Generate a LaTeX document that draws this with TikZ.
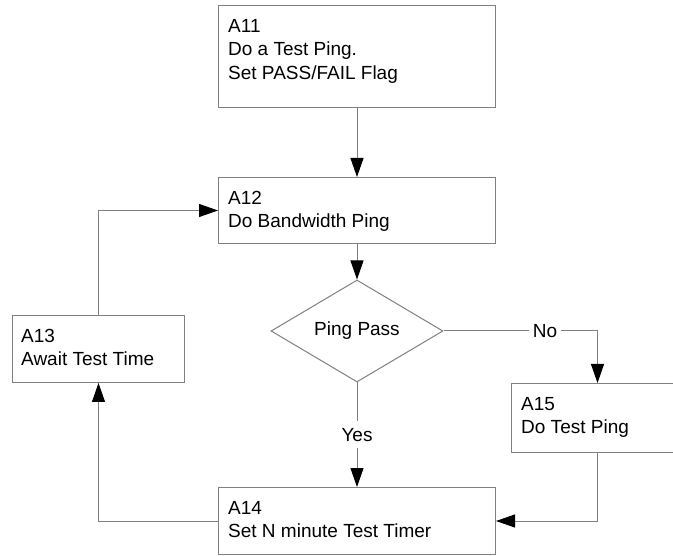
\documentclass[tikz,border=0pt]{standalone}
\usepackage{fontspec}
\setmainfont{Liberation Sans}
\usetikzlibrary{arrows.meta,shapes.geometric}
\definecolor{edge}{RGB}{128,128,128}
\begin{document}
\begin{tikzpicture}[x=1pt,y=-1pt,
  every node/.style={font=\fontsize{19}{23.5}\selectfont},
  box/.style={draw=edge,line width=1pt,rectangle,inner sep=0pt,anchor=north west},
  boxtext/.style={anchor=north west,inner sep=0pt,align=left},
  decision/.style={draw=edge,line width=1pt,diamond,inner sep=0pt,aspect=1.686,
    minimum width=172pt,minimum height=102pt},
  flow/.style={draw=edge,line width=1pt,
    -{Triangle[length=19pt,width=13pt,color=black,fill=black]}},
  lbl/.style={fill=white,inner xsep=4pt,inner ysep=7pt}]
\useasboundingbox (0,0) rectangle (673,556);
\clip (0,0) rectangle (673,556);

% process boxes
\node[box,minimum width=277pt,minimum height=102pt] (A11) at (218,5) {};
\node[box,minimum width=277pt,minimum height=66pt] (A12) at (218,177) {};
\node[box,minimum width=172pt,minimum height=67pt] (A13) at (12,315) {};
\node[box,minimum width=172pt,minimum height=69pt] (A15) at (511,383) {};
\node[box,minimum width=277pt,minimum height=67pt] (A14) at (218,487) {};
\node[decision] (D) at (357,331) {Ping Pass};

% box captions
\node[boxtext] (t11) at ([shift={(10,14)}]A11.north west) {A11\\Do a Test Ping.\\Set PASS/FAIL Flag};
\node[boxtext] (t12) at ([shift={(10,14)}]A12.north west) {A12\\Do Bandwidth Ping};
\node[boxtext] (t13) at ([shift={(9,14)}]A13.north west) {A13\\Await Test Time};
\node[boxtext] (t15) at ([shift={(10,14)}]A15.north west) {A15\\Do Test Ping};
\node[boxtext] (t14) at ([shift={(10,14)}]A14.north west) {A14\\Set N minute Test Timer};

% connectors
\draw[flow] (A11.south) -- (A12.north);
\draw[flow] (A12.south) -- (D.north);
\draw[flow] (D.east) -| node[lbl,pos=0.33] (no) {No} (A15.north);
\draw[flow] (D.south) -- node[lbl] (yes) {Yes} (A14.north);
\draw[flow] (A15.south) |- (A14.east);
\draw[flow] (A14.west) -| (A13.south);
\draw[flow] (A13.north) |- (A12.west);
\end{tikzpicture}
\end{document}
